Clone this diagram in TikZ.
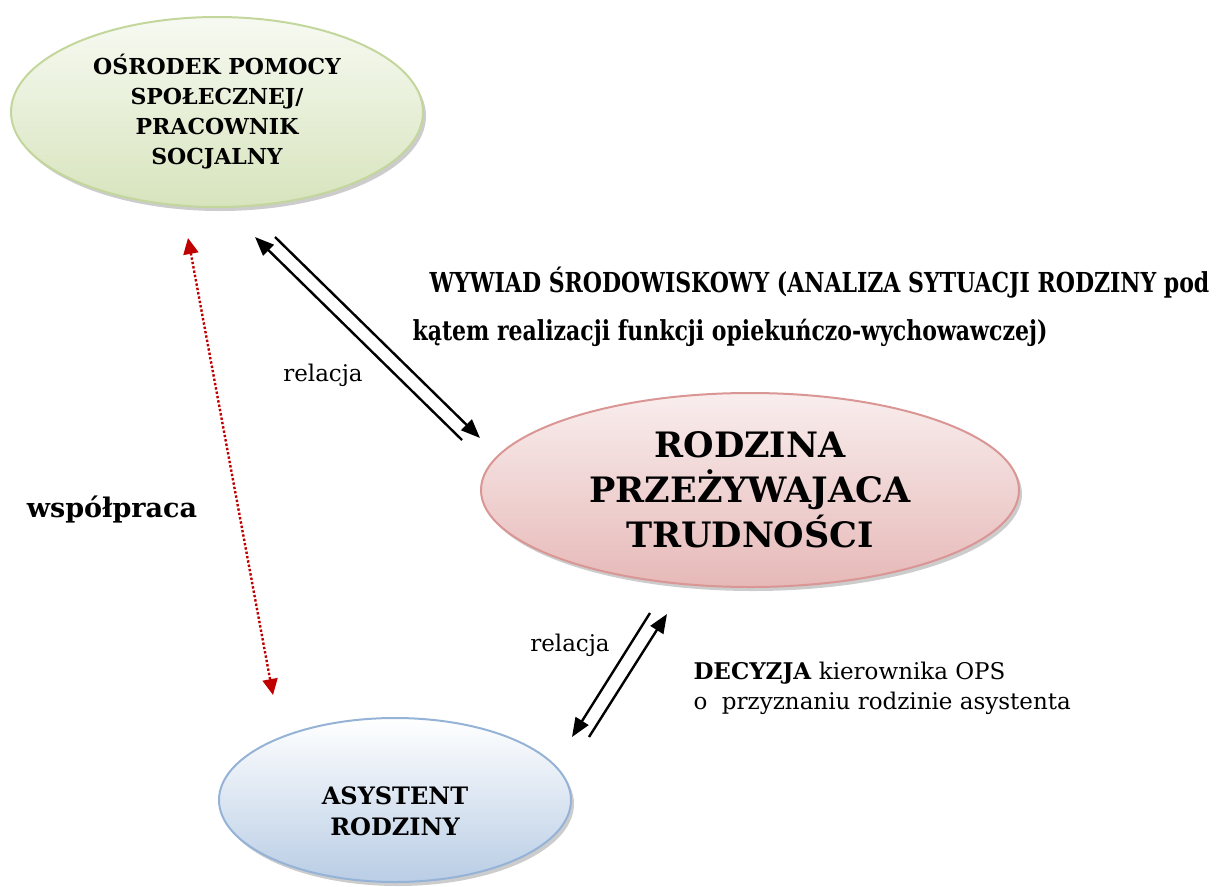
\documentclass[tikz,border=0pt]{standalone}
\usepackage{fontspec}
\setmainfont{DejaVu Serif}
\newfontfamily\condfont[FakeStretch=0.8]{DejaVu Serif}
\usetikzlibrary{shapes.geometric,shadows,arrows.meta}
\definecolor{ellgreen}{HTML}{C3D69B}
\definecolor{ellgreenb}{HTML}{D7E4BD}
\definecolor{ellpink}{HTML}{D99694}
\definecolor{ellpinkb}{HTML}{E6B9B8}
\definecolor{ellblue}{HTML}{95B3D7}
\definecolor{ellblueb}{HTML}{B9CDE5}
\definecolor{dotred}{HTML}{C00000}

\begin{document}
\begin{tikzpicture}[x=1pt,y=-1pt,
	ell/.style={ellipse,inner sep=0pt,line width=2pt,
		drop shadow={shadow xshift=3pt,shadow yshift=-4pt,fill=black!40}},
	tip/.style={-{Triangle[length=19pt,width=15pt]}},
	rel/.style={line width=2.4pt,tip},
	coop/.style={line width=2.4pt,dotred,dotted,{Triangle[length=16pt,width=15pt]}-{Triangle[length=16pt,width=15pt]}}]
	\useasboundingbox (0,0) rectangle (1217,886);
	%ELLIPSES
	\node[ell,draw=ellgreen,top color=ellgreenb!20,bottom color=ellgreenb,
		minimum width=412pt,minimum height=190pt,align=center,
		font=\bfseries\fontsize{22}{30}\selectfont] (ops) at (217,112)
		{OŚRODEK POMOCY\\SPOŁECZNEJ/\\PRACOWNIK\\SOCJALNY};
	\node[ell,draw=ellpink,top color=ellpinkb!25,bottom color=ellpinkb,
		minimum width=538pt,minimum height=194pt,align=center,
		font=\bfseries\fontsize{35}{45}\selectfont] (rodz) at (750,490)
		{RODZINA\\PRZEŻYWAJACA\\TRUDNOŚCI};
	\node[ell,draw=ellblue,top color=white,bottom color=ellblueb,
		minimum width=352pt,minimum height=164pt] (asyst) at (395,800) {};
	\node[align=center,font=\bfseries\fontsize{24}{31}\selectfont] (asysttxt) at (395,811)
		{ASYSTENT\\RODZINY};
	%ARROWS
	\coordinate (a1) at (255,237); \coordinate (a2) at (462,440);
	\coordinate (b1) at (275,237); \coordinate (b2) at (480,438);
	\coordinate (c1) at (650,613); \coordinate (c2) at (572,737);
	\coordinate (d1) at (589,737); \coordinate (d2) at (667,614);
	\coordinate (w1) at (188,238); \coordinate (w2) at (273,695);
	\draw[rel] (a2) -- (a1);
	\draw[rel] (b1) -- (b2);
	\draw[rel] (c1) -- (c2);
	\draw[rel] (d1) -- (d2);
	\draw[coop] (w1) -- (w2);
	%LABELS
	\node[anchor=west,font=\condfont\bfseries\fontsize{27.5}{30}\selectfont] (wyw1) at (426,283)
		{WYWIAD ŚRODOWISKOWY (ANALIZA SYTUACJI RODZINY pod};
	\node[anchor=west,font=\condfont\bfseries\fontsize{27.5}{30}\selectfont] (wyw2) at (409,333)
		{kątem realizacji funkcji opiekuńczo-wychowawczej)};
	\node[font=\fontsize{23}{26}\selectfont] (rel1) at (323,375) {relacja};
	\node[font=\fontsize{23}{26}\selectfont] (rel2) at (570,645) {relacja};
	\node[font=\bfseries\fontsize{27}{30}\selectfont] (wsp) at (112,510) {współpraca};
	\node[anchor=west,align=left,font=\fontsize{23}{30}\selectfont] (dec) at (690,688)
		{\textbf{DECYZJA} kierownika OPS\\ o\ \ przyznaniu rodzinie asystenta};
\end{tikzpicture}
\end{document}
